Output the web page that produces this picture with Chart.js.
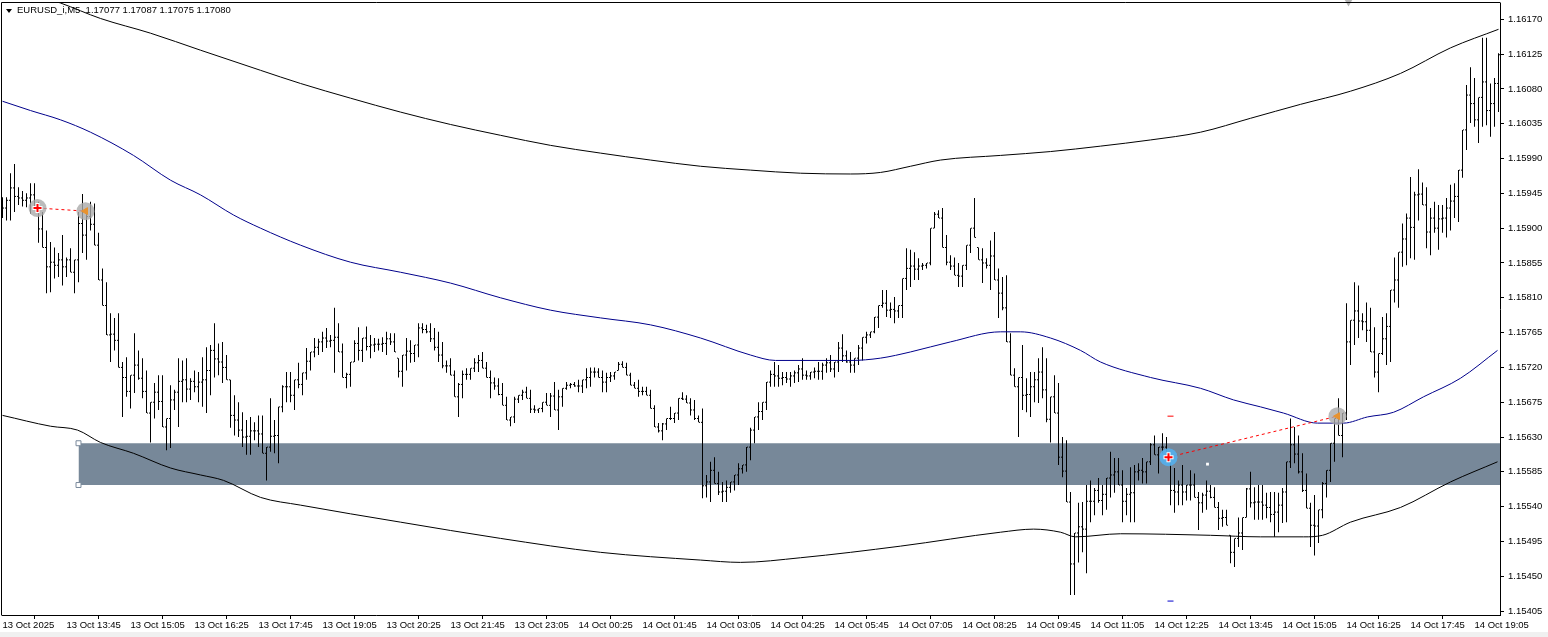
<!DOCTYPE html>
<html>
<head>
<meta charset="utf-8">
<title>EURUSD_i,M5</title>
<script src="https://cdn.jsdelivr.net/npm/chart.js@4.4.1/dist/chart.umd.min.js"></script>
<style>
  html, body { margin: 0; padding: 0; background: #f0f0f0; }
  #wrap { position: relative; width: 1548px; height: 632px; background: #fff; }
  #chart { display: block; }
  #arrow { position: absolute; left: 6px; top: 9px; width: 0; height: 0;
           border-left: 3px solid transparent; border-right: 3px solid transparent; border-top: 4px solid #000; }
  #header { position: absolute; left: 17px; top: 4px; font: 9.5px 'Liberation Sans', Arial, sans-serif;
            line-height: 11px; color: #000; white-space: pre; }
</style>
</head>
<body>
<div id="wrap">
  <canvas id="chart" width="1548" height="632"></canvas>
  <div id="arrow"></div>
  <div id="header">EURUSD_i,M5  1.17077 1.17087 1.17075 1.17080</div>
</div>
<script>
// M5 bars, one entry per bar (bar 0 = first bar on the left)
const highs = [
  1.15940,1.15940,1.15971,1.15983,1.15953,1.15948,1.15945,1.15958,1.15958,1.15934,1.15921,1.15897,1.15882,1.15875,1.15868,1.15891,
  1.15862,1.15874,1.15859,1.15921,1.15944,1.15923,1.15934,1.15932,1.15894,1.15848,1.15830,1.15790,1.15784,1.15790,1.15727,1.15733,
  1.15710,1.15764,1.15742,1.15732,1.15716,1.15675,1.15700,1.15710,1.15710,1.15654,1.15697,1.15691,1.15732,1.15729,1.15732,1.15706,
  1.15716,1.15714,1.15733,1.15746,1.15749,1.15777,1.15751,1.15753,1.15736,1.15704,1.15684,1.15675,1.15662,1.15652,1.15656,1.15649,
  1.15658,1.15658,1.15617,1.15680,1.15652,1.15669,1.15697,1.15714,1.15714,1.15704,1.15726,1.15713,1.15745,1.15740,1.15758,1.15757,
  1.15766,1.15771,1.15762,1.15797,1.15777,1.15751,1.15713,1.15727,1.15755,1.15772,1.15758,1.15773,1.15762,1.15758,1.15757,1.15759,
  1.15766,1.15764,1.15764,1.15732,1.15736,1.15758,1.15755,1.15749,1.15777,1.15777,1.15775,1.15777,1.15771,1.15766,1.15753,1.15729,
  1.15732,1.15716,1.15700,1.15716,1.15719,1.15719,1.15732,1.15736,1.15740,1.15727,1.15716,1.15707,1.15706,1.15700,1.15682,1.15656,
  1.15682,1.15684,1.15691,1.15695,1.15691,1.15671,1.15667,1.15675,1.15687,1.15687,1.15701,1.15691,1.15693,1.15701,1.15700,1.15701,
  1.15704,1.15704,1.15719,1.15720,1.15720,1.15719,1.15716,1.15713,1.15714,1.15714,1.15727,1.15728,1.15726,1.15713,1.15701,1.15704,
  1.15695,1.15695,1.15691,1.15671,1.15648,1.15648,1.15654,1.15669,1.15661,1.15680,1.15688,1.15684,1.15680,1.15678,1.15658,1.15667,
  1.15581,1.15598,1.15604,1.15585,1.15572,1.15574,1.15572,1.15581,1.15596,1.15594,1.15617,1.15642,1.15656,1.15675,1.15675,1.15701,
  1.15716,1.15727,1.15723,1.15714,1.15714,1.15714,1.15716,1.15723,1.15732,1.15716,1.15714,1.15720,1.15727,1.15726,1.15732,1.15736,
  1.15727,1.15753,1.15763,1.15742,1.15740,1.15732,1.15749,1.15759,1.15766,1.15766,1.15785,1.15800,1.15820,1.15820,1.15804,1.15811,
  1.15800,1.15835,1.15874,1.15872,1.15869,1.15861,1.15855,1.15855,1.15900,1.15921,1.15923,1.15926,1.15891,1.15865,1.15862,1.15855,
  1.15852,1.15878,1.15900,1.15939,1.15875,1.15874,1.15861,1.15884,1.15895,1.15848,1.15837,1.15839,1.15764,1.15719,1.15707,1.15749,
  1.15706,1.15714,1.15714,1.15732,1.15746,1.15732,1.15682,1.15710,1.15700,1.15630,1.15626,1.15559,1.15506,1.15545,1.15546,1.15568,
  1.15574,1.15564,1.15577,1.15568,1.15577,1.15611,1.15603,1.15603,1.15587,1.15564,1.15591,1.15594,1.15596,1.15603,1.15598,1.15622,
  1.15632,1.15617,1.15635,1.15630,1.15604,1.15590,1.15574,1.15594,1.15568,1.15587,1.15583,1.15559,1.15558,1.15574,1.15568,1.15565,
  1.15546,1.15536,1.15536,1.15503,1.15499,1.15526,1.15526,1.15564,1.15585,1.15565,1.15568,1.15568,1.15558,1.15559,1.15559,1.15558,
  1.15564,1.15598,1.15654,1.15643,1.15632,1.15609,1.15583,1.15545,1.15555,1.15536,1.15572,1.15587,1.15622,1.15654,1.15680,1.15661,
  1.15803,1.15781,1.15830,1.15826,1.15790,1.15804,1.15797,1.15772,1.15738,1.15785,1.15790,1.15820,1.15862,1.15869,1.15906,1.15919,
  1.15966,1.15947,1.15976,1.15959,1.15953,1.15926,1.15934,1.15930,1.15930,1.15939,1.15956,1.15958,1.15975,1.16027,1.16085,1.16108,
  1.16094,1.16069,1.16146,1.16146,1.16087,1.16094,1.16126
];
const lows = [
  1.15913,1.15910,1.15910,1.15921,1.15930,1.15928,1.15927,1.15919,1.15926,1.15881,1.15875,1.15816,1.15817,1.15835,1.15837,1.15826,
  1.15837,1.15843,1.15816,1.15830,1.15868,1.15859,1.15897,1.15878,1.15833,1.15800,1.15762,1.15727,1.15742,1.15720,1.15656,1.15682,
  1.15667,1.15687,1.15704,1.15680,1.15661,1.15623,1.15654,1.15665,1.15643,1.15613,1.15616,1.15665,1.15643,1.15675,1.15675,1.15678,
  1.15688,1.15675,1.15669,1.15661,1.15684,1.15707,1.15710,1.15700,1.15704,1.15642,1.15632,1.15630,1.15617,1.15607,1.15607,1.15626,
  1.15617,1.15609,1.15574,1.15611,1.15609,1.15596,1.15662,1.15675,1.15675,1.15665,1.15693,1.15684,1.15704,1.15716,1.15733,1.15736,
  1.15740,1.15745,1.15746,1.15713,1.15740,1.15707,1.15693,1.15695,1.15727,1.15729,1.15727,1.15742,1.15732,1.15740,1.15742,1.15740,
  1.15736,1.15749,1.15740,1.15707,1.15695,1.15716,1.15726,1.15727,1.15733,1.15764,1.15764,1.15753,1.15742,1.15727,1.15719,1.15713,
  1.15710,1.15682,1.15656,1.15680,1.15704,1.15704,1.15714,1.15714,1.15719,1.15707,1.15680,1.15691,1.15684,1.15671,1.15652,1.15644,
  1.15648,1.15674,1.15678,1.15680,1.15661,1.15661,1.15661,1.15662,1.15671,1.15656,1.15665,1.15639,1.15669,1.15691,1.15693,1.15695,
  1.15688,1.15687,1.15693,1.15695,1.15707,1.15707,1.15688,1.15688,1.15701,1.15704,1.15716,1.15720,1.15710,1.15697,1.15693,1.15682,
  1.15684,1.15684,1.15667,1.15643,1.15636,1.15626,1.15639,1.15652,1.15648,1.15652,1.15678,1.15674,1.15658,1.15652,1.15649,1.15551,
  1.15552,1.15546,1.15570,1.15555,1.15546,1.15546,1.15558,1.15561,1.15568,1.15583,1.15585,1.15600,1.15622,1.15639,1.15652,1.15665,
  1.15695,1.15695,1.15695,1.15697,1.15700,1.15695,1.15700,1.15701,1.15704,1.15704,1.15704,1.15706,1.15704,1.15704,1.15713,1.15714,
  1.15707,1.15714,1.15727,1.15726,1.15713,1.15713,1.15723,1.15729,1.15751,1.15758,1.15764,1.15771,1.15797,1.15785,1.15784,1.15777,
  1.15784,1.15784,1.15820,1.15824,1.15833,1.15833,1.15846,1.15848,1.15852,1.15900,1.15913,1.15875,1.15852,1.15846,1.15839,1.15824,
  1.15824,1.15846,1.15868,1.15888,1.15859,1.15829,1.15848,1.15820,1.15833,1.15784,1.15794,1.15753,1.15710,1.15695,1.15630,1.15665,
  1.15662,1.15656,1.15675,1.15674,1.15680,1.15649,1.15623,1.15661,1.15594,1.15578,1.15546,1.15426,1.15426,1.15468,1.15481,1.15454,
  1.15520,1.15529,1.15545,1.15529,1.15536,1.15552,1.15558,1.15568,1.15520,1.15529,1.15520,1.15520,1.15574,1.15570,1.15570,1.15594,
  1.15607,1.15583,1.15609,1.15603,1.15542,1.15532,1.15542,1.15542,1.15548,1.15548,1.15552,1.15510,1.15532,1.15536,1.15551,1.15539,
  1.15510,1.15514,1.15516,1.15467,1.15462,1.15488,1.15484,1.15526,1.15539,1.15523,1.15523,1.15523,1.15525,1.15520,1.15501,1.15507,
  1.15519,1.15520,1.15590,1.15596,1.15583,1.15559,1.15538,1.15488,1.15477,1.15493,1.15525,1.15552,1.15572,1.15598,1.15632,1.15604,
  1.15652,1.15723,1.15749,1.15758,1.15768,1.15753,1.15740,1.15707,1.15688,1.15736,1.15723,1.15727,1.15804,1.15797,1.15850,1.15852,
  1.15861,1.15859,1.15910,1.15930,1.15874,1.15865,1.15894,1.15872,1.15894,1.15888,1.15897,1.15913,1.15908,1.15965,1.16001,1.16036,
  1.16031,1.16010,1.16031,1.16033,1.16018,1.16031,1.16050
];
const opens = [
  1.15927,1.15926,1.15936,1.15952,1.15941,1.15939,1.15936,1.15939,1.15943,1.15926,1.15899,1.15875,1.15850,1.15856,1.15852,1.15859,
  1.15850,1.15859,1.15843,1.15859,1.15906,1.15891,1.15915,1.15905,1.15878,1.15833,1.15800,1.15762,1.15763,1.15755,1.15720,1.15707,
  1.15689,1.15710,1.15723,1.15706,1.15689,1.15661,1.15675,1.15688,1.15676,1.15643,1.15654,1.15678,1.15688,1.15702,1.15704,1.15692,
  1.15702,1.15695,1.15701,1.15704,1.15716,1.15742,1.15731,1.15727,1.15720,1.15704,1.15658,1.15652,1.15639,1.15630,1.15631,1.15638,
  1.15638,1.15634,1.15609,1.15617,1.15631,1.15632,1.15669,1.15695,1.15695,1.15684,1.15704,1.15698,1.15713,1.15728,1.15740,1.15746,
  1.15753,1.15758,1.15754,1.15755,1.15759,1.15740,1.15707,1.15711,1.15727,1.15751,1.15742,1.15758,1.15747,1.15749,1.15750,1.15750,
  1.15751,1.15757,1.15753,1.15732,1.15715,1.15736,1.15741,1.15738,1.15749,1.15771,1.15769,1.15766,1.15757,1.15746,1.15736,1.15722,
  1.15722,1.15710,1.15682,1.15698,1.15711,1.15711,1.15719,1.15726,1.15729,1.15719,1.15707,1.15700,1.15696,1.15685,1.15671,1.15652,
  1.15656,1.15679,1.15684,1.15688,1.15680,1.15666,1.15665,1.15667,1.15675,1.15671,1.15683,1.15665,1.15682,1.15693,1.15697,1.15698,
  1.15696,1.15696,1.15704,1.15707,1.15714,1.15714,1.15707,1.15701,1.15707,1.15709,1.15716,1.15724,1.15720,1.15710,1.15697,1.15693,
  1.15689,1.15689,1.15684,1.15667,1.15643,1.15638,1.15647,1.15654,1.15654,1.15661,1.15680,1.15679,1.15674,1.15665,1.15654,1.15649,
  1.15567,1.15572,1.15587,1.15570,1.15559,1.15560,1.15565,1.15572,1.15581,1.15589,1.15594,1.15617,1.15639,1.15656,1.15663,1.15675,
  1.15701,1.15711,1.15709,1.15706,1.15707,1.15705,1.15709,1.15713,1.15718,1.15710,1.15709,1.15714,1.15715,1.15715,1.15723,1.15726,
  1.15718,1.15727,1.15745,1.15735,1.15727,1.15723,1.15732,1.15745,1.15759,1.15762,1.15766,1.15785,1.15800,1.15803,1.15794,1.15795,
  1.15793,1.15800,1.15835,1.15848,1.15851,1.15847,1.15851,1.15852,1.15855,1.15900,1.15918,1.15913,1.15875,1.15856,1.15851,1.15839,
  1.15838,1.15852,1.15878,1.15900,1.15875,1.15859,1.15855,1.15852,1.15864,1.15833,1.15816,1.15797,1.15753,1.15710,1.15695,1.15707,
  1.15684,1.15685,1.15695,1.15704,1.15714,1.15691,1.15653,1.15682,1.15661,1.15604,1.15586,1.15546,1.15466,1.15506,1.15514,1.15511,
  1.15547,1.15547,1.15561,1.15548,1.15556,1.15577,1.15581,1.15585,1.15568,1.15547,1.15556,1.15558,1.15585,1.15587,1.15585,1.15598,
  1.15620,1.15607,1.15617,1.15617,1.15603,1.15561,1.15559,1.15568,1.15559,1.15568,1.15568,1.15552,1.15545,1.15555,1.15560,1.15552,
  1.15539,1.15525,1.15526,1.15503,1.15481,1.15499,1.15506,1.15526,1.15563,1.15545,1.15546,1.15546,1.15542,1.15539,1.15530,1.15533,
  1.15542,1.15559,1.15598,1.15620,1.15608,1.15585,1.15561,1.15538,1.15516,1.15515,1.15536,1.15570,1.15587,1.15622,1.15654,1.15632,
  1.15661,1.15753,1.15781,1.15793,1.15780,1.15779,1.15768,1.15740,1.15714,1.15738,1.15757,1.15773,1.15820,1.15833,1.15869,1.15886,
  1.15913,1.15901,1.15943,1.15944,1.15930,1.15895,1.15913,1.15900,1.15912,1.15913,1.15926,1.15935,1.15941,1.15975,1.16027,1.16072,
  1.16061,1.16040,1.16069,1.16089,1.16052,1.16061,1.16087
];
const closes = [
  1.15926,1.15936,1.15952,1.15941,1.15939,1.15936,1.15939,1.15943,1.15926,1.15899,1.15875,1.15850,1.15856,1.15852,1.15859,1.15850,
  1.15859,1.15843,1.15859,1.15906,1.15891,1.15915,1.15905,1.15878,1.15833,1.15800,1.15762,1.15763,1.15755,1.15720,1.15707,1.15689,
  1.15710,1.15723,1.15706,1.15689,1.15661,1.15675,1.15688,1.15676,1.15643,1.15654,1.15678,1.15688,1.15702,1.15704,1.15692,1.15702,
  1.15695,1.15701,1.15704,1.15716,1.15742,1.15731,1.15727,1.15720,1.15704,1.15658,1.15652,1.15639,1.15630,1.15631,1.15638,1.15638,
  1.15634,1.15609,1.15617,1.15631,1.15632,1.15669,1.15695,1.15695,1.15684,1.15704,1.15698,1.15713,1.15728,1.15740,1.15746,1.15753,
  1.15758,1.15754,1.15755,1.15759,1.15740,1.15707,1.15711,1.15727,1.15751,1.15742,1.15758,1.15747,1.15749,1.15750,1.15750,1.15751,
  1.15757,1.15753,1.15740,1.15715,1.15736,1.15741,1.15738,1.15749,1.15771,1.15769,1.15766,1.15757,1.15746,1.15736,1.15722,1.15722,
  1.15710,1.15682,1.15698,1.15711,1.15711,1.15719,1.15726,1.15729,1.15719,1.15707,1.15700,1.15696,1.15685,1.15671,1.15652,1.15656,
  1.15679,1.15684,1.15688,1.15680,1.15666,1.15665,1.15667,1.15675,1.15671,1.15683,1.15665,1.15682,1.15693,1.15697,1.15698,1.15696,
  1.15696,1.15704,1.15707,1.15714,1.15714,1.15707,1.15701,1.15707,1.15709,1.15714,1.15724,1.15720,1.15710,1.15697,1.15693,1.15689,
  1.15689,1.15684,1.15667,1.15643,1.15638,1.15647,1.15654,1.15654,1.15661,1.15680,1.15679,1.15674,1.15665,1.15654,1.15649,1.15567,
  1.15572,1.15587,1.15570,1.15559,1.15560,1.15565,1.15572,1.15581,1.15589,1.15594,1.15617,1.15639,1.15656,1.15663,1.15675,1.15701,
  1.15711,1.15709,1.15706,1.15707,1.15705,1.15709,1.15713,1.15718,1.15710,1.15709,1.15714,1.15715,1.15715,1.15723,1.15726,1.15718,
  1.15727,1.15745,1.15735,1.15727,1.15723,1.15732,1.15745,1.15759,1.15762,1.15766,1.15785,1.15800,1.15803,1.15794,1.15795,1.15793,
  1.15800,1.15835,1.15848,1.15851,1.15847,1.15851,1.15852,1.15855,1.15900,1.15918,1.15913,1.15875,1.15856,1.15851,1.15839,1.15838,
  1.15852,1.15878,1.15900,1.15888,1.15859,1.15855,1.15852,1.15864,1.15833,1.15816,1.15797,1.15753,1.15710,1.15695,1.15707,1.15684,
  1.15685,1.15695,1.15704,1.15714,1.15691,1.15653,1.15682,1.15661,1.15604,1.15586,1.15546,1.15466,1.15506,1.15514,1.15511,1.15547,
  1.15547,1.15561,1.15548,1.15556,1.15577,1.15581,1.15585,1.15568,1.15547,1.15556,1.15558,1.15585,1.15587,1.15585,1.15598,1.15620,
  1.15607,1.15617,1.15617,1.15603,1.15561,1.15559,1.15568,1.15559,1.15568,1.15568,1.15552,1.15545,1.15555,1.15560,1.15552,1.15539,
  1.15525,1.15526,1.15516,1.15481,1.15499,1.15506,1.15526,1.15563,1.15545,1.15546,1.15546,1.15542,1.15539,1.15530,1.15533,1.15542,
  1.15559,1.15598,1.15620,1.15608,1.15585,1.15561,1.15538,1.15516,1.15515,1.15536,1.15570,1.15587,1.15622,1.15654,1.15632,1.15661,
  1.15753,1.15781,1.15793,1.15780,1.15779,1.15768,1.15740,1.15714,1.15738,1.15757,1.15773,1.15820,1.15833,1.15869,1.15886,1.15913,
  1.15901,1.15943,1.15944,1.15930,1.15895,1.15913,1.15900,1.15912,1.15913,1.15926,1.15935,1.15941,1.15975,1.16027,1.16072,1.16061,
  1.16040,1.16069,1.16089,1.16052,1.16061,1.16087,1.16124
];

// indicator lines, sampled at bar positions
const upperIdx = [0,14.5,24.5,37,49.5,64.5,74.5,87,99.5,112,124.5,137,149.5,162,174.5,187,199.5,212,219.5,227,234.5,249.5,262,274.5,287,299.5,312,324.5,337,349.5,362,374];
const upperVals = [1.16215,1.16191,1.16171,1.16152,1.16130,1.16104,1.16087,1.16068,1.16050,1.16034,1.16020,1.16007,1.15997,1.15988,1.15980,1.15975,1.15971,1.15970,1.15972,1.15980,1.15988,1.15994,1.15999,1.16006,1.16014,1.16024,1.16042,1.16060,1.16077,1.16100,1.16133,1.16157];
const middleIdx = [0,7,14.5,22,32.75,42,49.5,57.75,64.5,74.5,87,99.5,112,124.5,137,149.5,162,174.5,187,193.25,212,219.5,227,237,249.5,254.5,262,269.5,274.5,287,299.5,307.75,314.5,320.25,328.75,335.25,341.25,347.75,355.25,364.5,373.75];
const middleVals = [1.16064,1.16052,1.16040,1.16024,1.15994,1.15962,1.15943,1.15917,1.15900,1.15878,1.15856,1.15843,1.15829,1.15810,1.15794,1.15784,1.15775,1.15758,1.15736,1.15729,1.15729,1.15732,1.15740,1.15753,1.15766,1.15766,1.15758,1.15742,1.15727,1.15707,1.15693,1.15678,1.15669,1.15661,1.15648,1.15648,1.15656,1.15662,1.15682,1.15706,1.15742];
const lowerIdx = [0,12,18.75,24.5,32.75,42,49.5,55.25,64.5,74.5,99.5,124.5,149.5,174.5,184.5,199.5,224.5,249.5,257.75,264.5,268.25,279.5,302,314.5,325.25,330,337,349.5,362,373.75];
const lowerVals = [1.15658,1.15644,1.15639,1.15623,1.15609,1.15590,1.15581,1.15574,1.15552,1.15542,1.15520,1.15499,1.15481,1.15471,1.15468,1.15474,1.15489,1.15507,1.15511,1.15507,1.15501,1.15505,1.15503,1.15501,1.15501,1.15503,1.15520,1.15539,1.15572,1.15598];

// rectangle zone
const zoneFrom = 19, zoneTo = 380;
const zoneTop = 1.15622, zoneBottom = 1.15568;

// trades: entry / exit
const entryIdx = [8.75, 291.5], entryPrice = [1.15926, 1.15604];
const exitIdx = [20.75, 333.75], exitPrice = [1.15922, 1.15657];

// small level marks
const markIdx = [292, 292], markPrice = [1.15657, 1.15418];
const dotIdx = [301.25], dotPrice = [1.15595];
const shiftIdx = [336.5], shiftPrice = [1.16193];

// axes
const yTickValues = [1.16170,1.16125,1.16080,1.16035,1.15990,1.15945,1.15900,1.15855,1.15810,1.15765,1.15720,1.15675,1.15630,1.15585,1.15540,1.15495,1.15450,1.15405];
const xTickBars = [0,16,32,48,64,80,96,112,128,144,160,176,192,208,224,240,256,272,288,304,320,336,352,368];
const xTickLabels = ['13 Oct 2025','13 Oct 13:45','13 Oct 15:05','13 Oct 16:25','13 Oct 17:45','13 Oct 19:05','13 Oct 20:25','13 Oct 21:45','13 Oct 23:05','14 Oct 00:25','14 Oct 01:45','14 Oct 03:05','14 Oct 04:25','14 Oct 05:45','14 Oct 07:05','14 Oct 08:25','14 Oct 09:45','14 Oct 11:05','14 Oct 12:25','14 Oct 13:45','14 Oct 15:05','14 Oct 16:25','14 Oct 17:45','14 Oct 19:05'];

const pts = (xs, ys) => xs.map((x, k) => ({ x: x, y: ys[k] }));

Chart.defaults.font.family = "'Liberation Sans', Arial, sans-serif";
Chart.defaults.font.size = 9.5;
Chart.defaults.color = '#000';

// left and top edge of the plot frame
const framePlugin = {
  id: 'frame',
  afterDraw(chart) {
    const a = chart.chartArea, c = chart.ctx;
    c.save();
    c.strokeStyle = '#000';
    c.lineWidth = 1;
    c.beginPath();
    c.moveTo(a.left - 0.5, a.bottom + 0.5);
    c.lineTo(a.left - 0.5, a.top - 0.5);
    c.lineTo(a.right + 0.5, a.top - 0.5);
    c.stroke();
    c.restore();
  }
};

// keep the scales from reserving extra room for their end labels
const noPad = s => { s.paddingLeft = 0; s.paddingRight = 0; s.paddingTop = 0; s.paddingBottom = 0; };

const lineDs = (data, color, order) => ({
  type: 'line', data: data, borderColor: color, borderWidth: 1, pointRadius: 0,
  cubicInterpolationMode: 'monotone', fill: false, order: order
});

new Chart(document.getElementById('chart'), {
  type: 'bar',
  data: {
    datasets: [
      { type: 'line', data: pts([zoneFrom, zoneTo], [zoneTop, zoneTop]), borderWidth: 0, pointRadius: 0, fill: false, order: 30 },
      { type: 'line', data: pts([zoneFrom, zoneTo], [zoneBottom, zoneBottom]), borderWidth: 0, pointRadius: 0,
        fill: '-1', backgroundColor: '#778899', order: 29 },
      { type: 'scatter', data: pts([zoneFrom, zoneFrom], [zoneTop, zoneBottom]), pointStyle: 'rect', pointRadius: 3.5,
        backgroundColor: '#fff', borderColor: '#7a8a9c', borderWidth: 1, order: 28 },
      { type: 'bar', data: highs.map((h, i) => ({ x: i, y: [lows[i], h] })), backgroundColor: '#000',
        barThickness: 1, inflateAmount: 0, grouped: false, borderWidth: 0, order: 20 },
      { type: 'scatter', data: opens.map((v, i) => ({ x: i - 0.25, y: v })), pointStyle: 'rect', pointRadius: 0.71,
        backgroundColor: '#000', borderWidth: 0, order: 19 },
      { type: 'scatter', data: closes.map((v, i) => ({ x: i + 0.25, y: v })), pointStyle: 'rect', pointRadius: 0.71,
        backgroundColor: '#000', borderWidth: 0, order: 19 },
      lineDs(pts(upperIdx, upperVals), '#000', 10),
      lineDs(pts(middleIdx, middleVals), '#00008b', 10),
      lineDs(pts(lowerIdx, lowerVals), '#000', 10),
      { type: 'line', data: pts([entryIdx[0], exitIdx[0]], [entryPrice[0], exitPrice[0]]), borderColor: '#ff0000',
        borderWidth: 1, borderDash: [3, 3], pointRadius: 0, order: 6 },
      { type: 'line', data: pts([entryIdx[1], exitIdx[1]], [entryPrice[1], exitPrice[1]]), borderColor: '#ff0000',
        borderWidth: 1, borderDash: [3, 3], pointRadius: 0, order: 6 },
      { type: 'scatter', data: pts(entryIdx.concat(exitIdx), entryPrice.concat(exitPrice)), pointRadius: 9, borderWidth: 0,
        backgroundColor: ['rgba(170,170,170,0.8)', 'rgba(85,175,235,0.92)', 'rgba(170,170,170,0.8)', 'rgba(170,170,170,0.8)'], order: 5 },
      { type: 'scatter', data: pts(entryIdx, entryPrice), pointStyle: 'cross', pointRadius: 5,
        borderColor: '#ffffff', borderWidth: 4, order: 3 },
      { type: 'scatter', data: pts(entryIdx, entryPrice), pointStyle: 'cross', pointRadius: 4,
        borderColor: '#ff0000', borderWidth: 2, order: 2 },
      { type: 'scatter', data: pts(exitIdx, exitPrice), pointStyle: 'triangle', rotation: -90, pointRadius: 4,
        backgroundColor: '#e8922e', borderColor: '#e8922e', borderWidth: 1, order: 2 },
      { type: 'scatter', data: pts(markIdx, markPrice), pointStyle: 'line', pointRadius: 3,
        borderColor: ['#ff0000', '#0000cc'], borderWidth: 1, order: 2 },
      { type: 'scatter', data: pts(dotIdx, dotPrice), pointStyle: 'rect', pointRadius: 2,
        backgroundColor: '#fff', borderWidth: 0, order: 2 },
      { type: 'scatter', data: pts(shiftIdx, shiftPrice), pointStyle: 'triangle', rotation: 180, pointRadius: 5,
        backgroundColor: '#b4b4b4', borderWidth: 0, clip: false, order: 1 }
    ]
  },
  options: {
    responsive: false,
    devicePixelRatio: 1,
    animation: false,
    events: [],
    layout: { autoPadding: false, padding: { left: 2, top: 3, right: 0, bottom: 0 } },
    plugins: {
      legend: { display: false },
      tooltip: { enabled: false },
      filler: { drawTime: 'beforeDatasetsDraw' }
    },
    scales: {
      x: {
        type: 'linear', offset: false, min: -0.125, max: 374.375,
        afterBuildTicks: s => { s.ticks = xTickBars.map(v => ({ value: v })); },
        afterFit: s => { s.height = 17; noPad(s); },
        ticks: { callback: (v, idx) => xTickLabels[idx], align: 'start', autoSkip: false, maxRotation: 0, padding: 1 },
        grid: { drawOnChartArea: false, drawTicks: true, tickLength: 4, color: '#000' },
        border: { color: '#000' }
      },
      y: {
        position: 'right', min: 1.15400, max: 1.16191,
        afterBuildTicks: s => { s.ticks = yTickValues.map(v => ({ value: v })); },
        afterFit: s => { s.width = 48; noPad(s); },
        ticks: { callback: v => v.toFixed(5), padding: 4 },
        grid: { drawOnChartArea: false, drawTicks: true, tickLength: 4, color: '#000' },
        border: { color: '#000' }
      }
    }
  },
  plugins: [framePlugin]
});
</script>
</body>
</html>
